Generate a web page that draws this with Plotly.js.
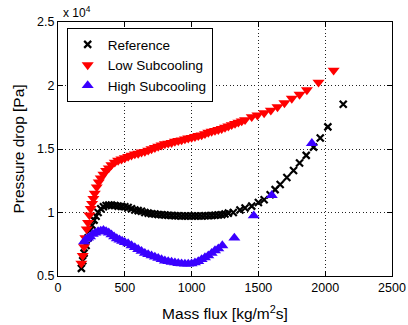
<!DOCTYPE html>
<html>
<head>
<meta charset="utf-8">
<script src="https://cdn.plot.ly/plotly-3.0.1.min.js"></script>
<style>html,body{margin:0;padding:0;background:#fff;}#chart{width:408px;height:325px;}</style>
</head>
<body>
<div id="chart"></div>
<script>
// Mass flux [kg/m^2 s] and pressure drop (in units of 10^4 Pa)
var refX = [175,185,195,210,225,240,255,270,285,300,320,340,360,380,400,425,450,475,500,525,550,575,600,625,650,675,700,725,750,775,800,825,850,875,900,925,950,975,1000,1025,1050,1075,1100,1125,1150,1175,1200,1225,1250,1275,1312,1362,1400,1450,1500,1543,1588,1625,1663,1713,1763,1808,1858,1913,1963,2020,2135];
var refY = [0.56,0.62,0.68,0.74,0.80,0.86,0.90,0.94,0.97,1.00,1.03,1.045,1.055,1.058,1.058,1.055,1.05,1.048,1.045,1.04,1.03,1.02,1.015,1.01,1.00,0.995,0.99,0.988,0.985,0.982,0.98,0.978,0.976,0.975,0.974,0.973,0.973,0.972,0.972,0.972,0.973,0.973,0.974,0.975,0.976,0.978,0.98,0.983,0.988,0.995,1.00,1.02,1.035,1.05,1.078,1.10,1.14,1.18,1.22,1.275,1.33,1.39,1.45,1.515,1.587,1.674,1.853];

var lowX = [175,185,195,205,215,225,235,245,255,265,275,290,305,320,340,360,380,400,425,450,475,500,525,550,575,600,625,650,675,700,725,750,775,800,825,850,875,900,925,950,975,1000,1025,1050,1075,1100,1125,1150,1175,1200,1225,1250,1275,1300,1325,1350,1375,1400,1450,1493,1543,1593,1643,1695,1750,1808,1863,1950,2063];
var lowY = [0.60,0.66,0.73,0.80,0.87,0.92,0.98,1.03,1.07,1.11,1.15,1.20,1.24,1.27,1.30,1.33,1.35,1.375,1.395,1.41,1.42,1.43,1.44,1.45,1.46,1.465,1.475,1.48,1.49,1.50,1.51,1.52,1.53,1.54,1.545,1.55,1.56,1.565,1.57,1.578,1.585,1.59,1.597,1.605,1.61,1.62,1.63,1.638,1.645,1.652,1.66,1.67,1.68,1.69,1.70,1.71,1.72,1.73,1.753,1.766,1.784,1.805,1.831,1.863,1.898,1.93,1.965,2.025,2.12];

var highX = [195,210,225,240,260,280,300,320,340,360,380,400,420,440,460,480,500,525,550,575,600,625,650,675,700,725,750,775,800,825,850,875,900,925,950,975,1000,1025,1050,1075,1100,1125,1150,1175,1200,1230,1320,1465,1600,1900];
var highY = [0.77,0.79,0.80,0.81,0.83,0.84,0.85,0.855,0.86,0.85,0.84,0.825,0.81,0.795,0.785,0.775,0.765,0.755,0.74,0.725,0.71,0.695,0.68,0.67,0.66,0.65,0.64,0.63,0.62,0.615,0.61,0.605,0.60,0.597,0.595,0.595,0.597,0.605,0.615,0.63,0.645,0.66,0.68,0.70,0.715,0.74,0.80,0.975,1.135,1.545];

var xTicks = [0,500,1000,1500,2000,2500];
var yTicks = [0.5,1,1.5,2,2.5];
var seriesNames = ['Reference','Low Subcooling','High Subcooling'];

var FONT = 'Liberation Sans, Arial, sans-serif';

var traces = [
  {x: refX, y: refY, name: seriesNames[0], type: 'scatter', mode: 'markers',
   marker: {symbol: 'x-thin-open', size: 7, color: '#000', line: {width: 2.2, color: '#000'}}},
  {x: lowX, y: lowY, name: seriesNames[1], type: 'scatter', mode: 'markers',
   marker: {symbol: 'triangle-down', size: 10.5, color: '#ff0000', line: {width: 0}}},
  {x: highX, y: highY, name: seriesNames[2], type: 'scatter', mode: 'markers',
   marker: {symbol: 'triangle-up', size: 10.5, color: '#3a00ff', line: {width: 0}}}
];

var axisCommon = {
  showline: true, linecolor: '#000', linewidth: 1, mirror: 'ticks',
  ticks: 'inside', ticklen: 5, tickcolor: '#000', tickwidth: 1,
  showgrid: true, gridcolor: '#222', griddash: '1px,2.5px', gridwidth: 1,
  zeroline: false, tickfont: {family: FONT, size: 12.5, color: '#000'}
};

var layout = {
  width: 408, height: 325,
  margin: {l: 58, r: 16, t: 22, b: 49},
  paper_bgcolor: '#fff', plot_bgcolor: '#fff',
  font: {family: FONT, color: '#000'},
  showlegend: true,
  legend: {x: 0.026, y: 0.976, xanchor: 'left', yanchor: 'top',
           bgcolor: '#fff', bordercolor: '#000', borderwidth: 1,
           tracegroupgap: 0,
           font: {family: FONT, size: 13.5, color: '#000'}},
  xaxis: Object.assign({}, axisCommon, {
    range: [0, 2500], tickvals: xTicks, ticktext: xTicks.map(String),
    title: {text: 'Mass flux [kg/m<sup>2</sup>s]', font: {family: FONT, size: 15.5, color: '#000'}, standoff: 14}
  }),
  yaxis: Object.assign({}, axisCommon, {
    range: [0.5, 2.5], tickvals: yTicks, ticktext: yTicks.map(String),
    title: {text: 'Pressure drop [Pa]', font: {family: FONT, size: 15.5, color: '#000'}, standoff: 8}
  }),
  annotations: [{
    text: 'x 10<sup>4</sup>', xref: 'paper', yref: 'paper', x: 0.01, y: 1.0,
    xanchor: 'left', yanchor: 'bottom', showarrow: false,
    font: {family: FONT, size: 12, color: '#000'}
  }]
};

Plotly.newPlot('chart', traces, layout, {displayModeBar: false, staticPlot: true});
</script>
</body>
</html>
